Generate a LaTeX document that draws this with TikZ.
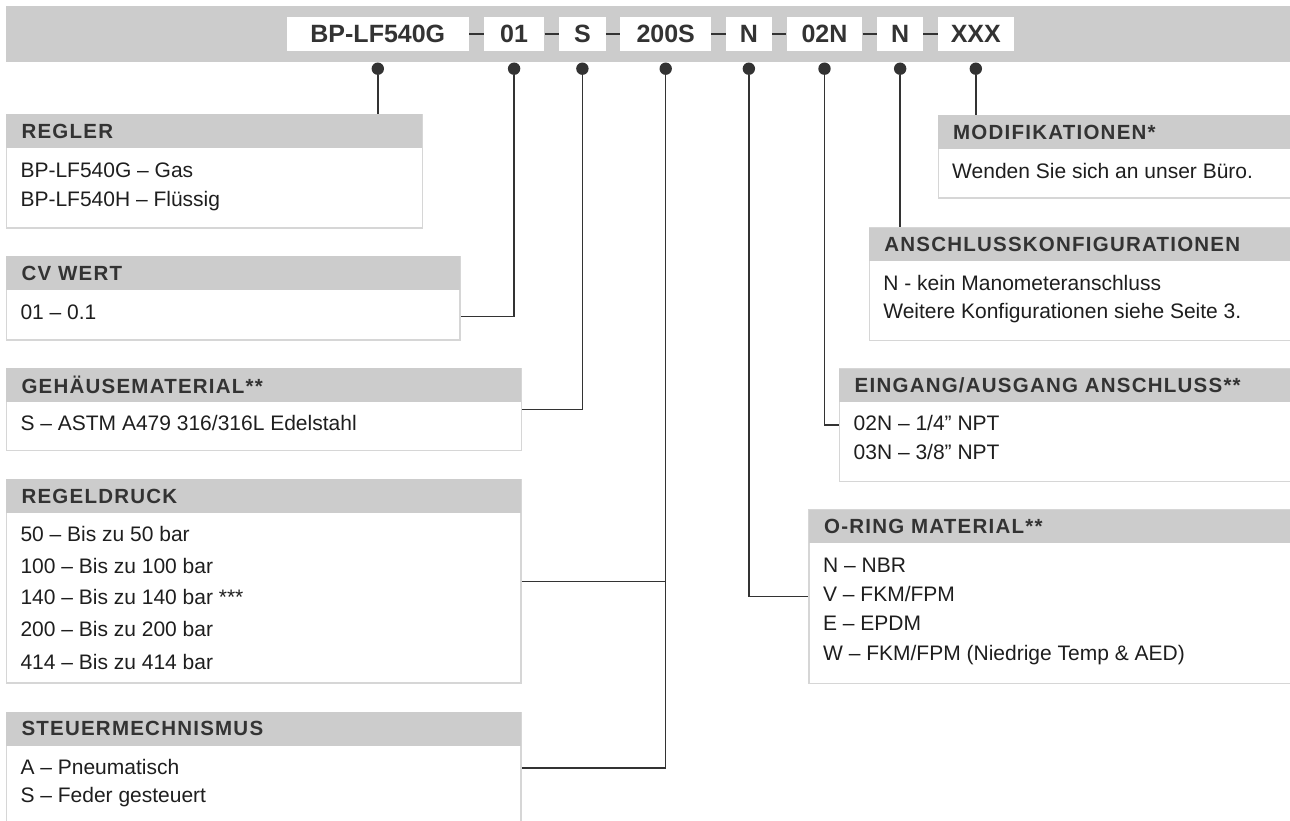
\documentclass[tikz,border=0pt]{standalone}
\usepackage{fontspec}
\setmainfont{Liberation Sans}
\newfontfamily\headfont[LetterSpace=6]{Liberation Sans}
\usetikzlibrary{calc, positioning}
\definecolor{bargrey}{HTML}{CCCCCC}
\definecolor{rimgrey}{HTML}{D6D6D6}
\definecolor{inkgrey}{HTML}{333333}
\definecolor{textgrey}{HTML}{1E1E1E}

\begin{document}
\begin{tikzpicture}[x=1pt, y=-1pt,
  strip/.style={fill=bargrey, anchor=north west, inner sep=0pt, minimum height=55.7pt, minimum width=1300pt},
  part/.style={fill=white, inner sep=0pt, minimum height=34pt, font=\bfseries\fontsize{25}{30}\selectfont, text=inkgrey},
  joiner/.style={draw=inkgrey, line width=2pt},
  knob/.style={circle, fill=inkgrey, inner sep=0pt, minimum size=12.4pt},
  wire/.style={draw=inkgrey, line width=1.4pt},
  panel/.style={draw=rimgrey, line width=1.3pt, anchor=north west, inner sep=0pt},
  heading/.style={fill=bargrey, anchor=north west, inner xsep=15.5pt, inner ysep=0pt, minimum height=33.7pt, align=left, font=\headfont\bfseries\fontsize{20.5}{24}\selectfont, text=inkgrey},
  entry/.style={anchor=base west, inner sep=0pt, font=\fontsize{21}{25}\selectfont, text=textgrey},
  node distance=14.4pt]
  \useasboundingbox (0,0) rectangle (1290,821);

  \node [strip] (strip) at (5.8,6) {};
  \node [part, minimum width=182.3pt] (c1) at (377.8,33.7) {BP-LF540G};
  \node [part, minimum width=60.7pt, right=of c1] (c2) {01};
  \node [part, minimum width=46.3pt, right=of c2] (c3) {S};
  \node [part, minimum width=90.7pt, right=of c3] (c4) {200S};
  \node [part, minimum width=46pt, right=of c4] (c5) {N};
  \node [part, minimum width=75.7pt, right=of c5] (c6) {02N};
  \node [part, minimum width=46pt, right=of c6] (c7) {N};
  \node [part, minimum width=75.7pt, right=of c7] (c8) {XXX};
  \draw [joiner] (c1.east) -- (c2.west);
  \draw [joiner] (c2.east) -- (c3.west);
  \draw [joiner] (c3.east) -- (c4.west);
  \draw [joiner] (c4.east) -- (c5.west);
  \draw [joiner] (c5.east) -- (c6.west);
  \draw [joiner] (c6.east) -- (c7.west);
  \draw [joiner] (c7.east) -- (c8.west);
  \node [knob, below=11.4pt of c1] (k1) {};
  \node [knob, below=11.4pt of c2] (k2) {};
  \node [knob, below=11.4pt of c3] (k3) {};
  \node [knob, below=11.4pt of c4] (k4) {};
  \node [knob, below=11.4pt of c5] (k5) {};
  \node [knob, below=11.4pt of c6] (k6) {};
  \node [knob, below=11.4pt of c7] (k7) {};
  \node [knob, below=11.4pt of c8] (k8) {};

  % left column
  \node [panel, minimum width=415.8pt, minimum height=113.3pt] (regler) at (5.8,114) {};
  \node [heading, text width=384.8pt] (regler-t) at (regler.north west) {REGLER};
  \node [entry] (regler-1) at (20.3,177.5) {BP-LF540G – Gas};
  \node [entry] (regler-2) at (20.3,206.5) {BP-LF540H – Flüssig};

  \node [panel, minimum width=453.6pt, minimum height=83.3pt] (cv) at (5.8,256) {};
  \node [heading, text width=422.6pt] (cv-t) at (cv.north west) {CV WERT};
  \node [entry] (cv-1) at (20.3,319.2) {01 – 0.1};

  \node [panel, minimum width=514.9pt, minimum height=82.3pt] (geh) at (5.8,367.7) {};
  \node [heading, text width=483.9pt] (geh-t) at (geh.north west) {GEHÄUSEMATERIAL**};
  \node [entry] (geh-1) at (20.3,430.8) {S – ASTM A479 316/316L Edelstahl};

  \node [panel, minimum width=514.5pt, minimum height=203.3pt] (druck) at (5.8,479) {};
  \node [heading, text width=483.5pt] (druck-t) at (druck.north west) {REGELDRUCK};
  \node [entry] (druck-1) at (20.3,541.5) {50 – Bis zu 50 bar};
  \node [entry] (druck-2) at (20.3,573.2) {100 – Bis zu 100 bar};
  \node [entry] (druck-3) at (20.3,604.5) {140 – Bis zu 140 bar ***};
  \node [entry] (druck-4) at (20.3,636.5) {200 – Bis zu 200 bar};
  \node [entry] (druck-5) at (20.3,669.2) {414 – Bis zu 414 bar};

  \node [panel, minimum width=514.5pt, minimum height=111.2pt] (steuer) at (5.8,711.7) {};
  \node [heading, text width=483.5pt] (steuer-t) at (steuer.north west) {STEUERMECHNISMUS};
  \node [entry] (steuer-1) at (20.3,774.2) {A – Pneumatisch};
  \node [entry] (steuer-2) at (20.3,802.5) {S – Feder gesteuert};

  % right column
  \node [panel, minimum width=362.5pt, minimum height=82.3pt] (mod) at (937.5,115) {};
  \node [heading, text width=331.5pt] (mod-t) at (mod.north west) {MODIFIKATIONEN*};
  \node [entry] (mod-1) at (952,178.5) {Wenden Sie sich an unser Büro.};

  \node [panel, minimum width=431.4pt, minimum height=112.7pt] (konf) at (868.6,227.3) {};
  \node [heading, text width=400.4pt] (konf-t) at (konf.north west) {ANSCHLUSSKONFIGURATIONEN};
  \node [entry] (konf-1) at (883.1,290.2) {N - kein Manometeranschluss};
  \node [entry] (konf-2) at (883.1,318.5) {Weitere Konfigurationen siehe Seite 3.};

  \node [panel, minimum width=461pt, minimum height=112.4pt] (port) at (839,368.3) {};
  \node [heading, text width=430pt] (port-t) at (port.north west) {EINGANG/AUSGANG ANSCHLUSS**};
  \node [entry] (port-1) at (853.5,430.2) {02N – 1/4” NPT};
  \node [entry] (port-2) at (853.5,459.8) {03N – 3/8” NPT};

  \node [panel, minimum width=491.6pt, minimum height=173.4pt] (ring) at (808.4,509.3) {};
  \node [heading, text width=460.6pt] (ring-t) at (ring.north west) {O-RING MATERIAL**};
  \node [entry] (ring-1) at (822.9,572.5) {N – NBR};
  \node [entry] (ring-2) at (822.9,601.5) {V – FKM/FPM};
  \node [entry] (ring-3) at (822.9,630.8) {E – EPDM};
  \node [entry] (ring-4) at (822.9,660.2) {W – FKM/FPM (Niedrige Temp \& AED)};

  \coordinate (cv-in) at ($(cv.south east)+(0,-24.3)$);
  \draw [wire] (k1) -- (k1 |- regler.north);
  \draw [wire] (k2) |- (cv-in);
  \draw [wire] (k3) |- (geh.east);
  \draw [wire] (k4) |- (steuer.east);
  \draw [wire] (druck.east) -- (druck.east -| k4);
  \draw [wire] (k5) |- (ring.west);
  \draw [wire] (k6) |- (port.west);
  \draw [wire] (k7) -- (k7 |- konf.north);
  \draw [wire] (k8) -- (k8 |- mod.north);
\end{tikzpicture}
\end{document}
